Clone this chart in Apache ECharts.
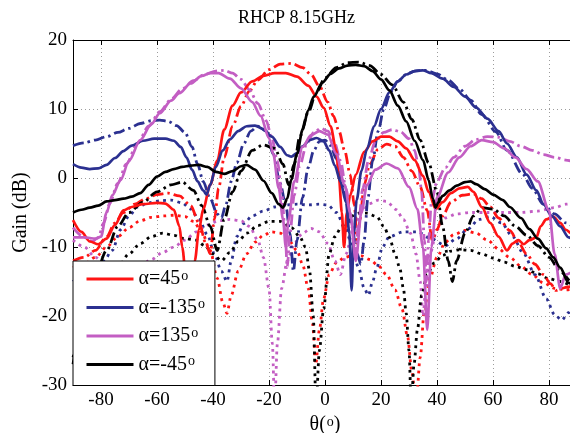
<!DOCTYPE html>
<html><head><meta charset="utf-8">
<script src="https://cdn.jsdelivr.net/npm/echarts@6/dist/echarts.min.js"></script>
<style>html,body{margin:0;padding:0;background:#fff}#c{width:570px;height:433px}</style>
</head><body><div id="c"></div><script>
const xTicks = [-80,-60,-40,-20,0,20,40,60,80];
const legendNames = ['α=45º','α=-135º','α=135º','α=-45º'];

// alpha = 45 deg (red)
const a45_solid = [[-90,-6.1],[-87,-7.8],[-84,-9.2],[-81,-9.6],[-78,-8.8],[-75,-6.8],[-72,-4.7],[-69,-4.2],[-65,-3.8],[-60,-3.6],[-57,-3.7],[-54,-4.6],[-52,-7],[-51,-10],[-49.5,-15],[-48,-18],[-46.5,-12],[-45,-7.5],[-43.5,-4.5],[-41,-1],[-38.5,2.5],[-36,7],[-33,10.5],[-30,12.4],[-26,14],[-22,14.8],[-18,15.2],[-14,15.2],[-10,14.7],[-6,13.4],[-3,11.8],[-0.5,10.2],[2,7.5],[4,4],[5,0],[6,-5],[6.8,-10],[7.8,-5],[9,-2.5],[11,0.5],[14,3.8],[17,5.3],[20,6],[23,6],[26,5.3],[29,4.3],[32,2.6],[35,0.3],[37,-2],[39.5,-4.5],[42,-3.5],[45,-2.2],[48,-1.5],[51,-1.3],[53,-2],[56,-4.2],[59,-6.5],[62,-8.5],[65,-10.5],[67,-9.5],[69,-9],[71,-9.6],[73,-9],[75.5,-8.6],[77,-7],[79,-6],[81.5,-5.6],[84,-6.5],[86,-7.5],[88,-8],[90,-8.5]];
const a45_dashdot = [[-90,-12],[-86,-11.5],[-82,-10.5],[-78,-8.5],[-75,-6.5],[-72,-5],[-68,-3.8],[-64,-3],[-60,-2.4],[-56,-2.2],[-52,-2.6],[-48,-4],[-45,-6.5],[-42.5,-9.5],[-41,-11],[-39.5,-6],[-38,-1.5],[-36,3],[-33,7.5],[-30,10.4],[-27,12.6],[-24,14.2],[-20,15.7],[-16,16.5],[-12,16.6],[-8,16],[-5,15],[-2,13.3],[1,11],[3,9],[5,6.8],[7,4],[9,0.5],[10.5,-4],[11.5,-9.5],[12.5,-6],[14,-1],[16,2],[19,4.2],[22,4.9],[25,4.6],[28,3],[31,1],[34,-1.3],[36.5,-4.7],[38.3,-9],[40,-7.5],[42,-5.5],[45,-3.5],[49,-2.5],[53,-2.3],[56,-3],[59,-4.2],[62,-5.8],[66,-7.6],[69,-9.3],[72,-11],[75,-12.5],[78,-14],[80.5,-15.3],[82.5,-16.3],[84.5,-16],[86.5,-15.8],[90,-15.5]];
const a45_dotted = [[-90,-13],[-86,-12.5],[-82,-11.5],[-78,-10],[-74,-8.5],[-70,-7.2],[-66,-6.2],[-62,-5.7],[-58,-5.5],[-54,-5.4],[-50,-5.6],[-47,-6.3],[-44,-7.8],[-41,-10.5],[-38.5,-14.5],[-36.5,-18],[-35,-19.6],[-33.5,-17],[-31,-13.5],[-28,-11],[-25,-9.3],[-22,-8.3],[-19,-7.8],[-16,-8],[-13,-9],[-10,-10.5],[-8,-12.5],[-6,-16],[-4.5,-21],[-3.3,-27],[-2,-22],[-0.5,-17.5],[1.5,-14],[4,-12.3],[7,-11.5],[10,-11.2],[13,-11.3],[16,-11.8],[19,-12.7],[22,-14],[25,-16.2],[27.5,-19],[29.5,-23],[31,-28],[32.5,-33],[34,-26],[35.5,-19],[37.5,-14.5],[40,-11.5],[43,-9.3],[46,-8.2],[50,-7.6],[54,-8],[58,-9],[62,-10.3],[66,-11.5],[70,-12.8],[74,-14],[78,-15.2],[82,-16],[86,-16.2],[90,-16]];

// alpha = -135 deg (blue)
const am135_solid = [[-90,2],[-87,1.5],[-84,1.3],[-81,1.4],[-78,1.9],[-75,2.9],[-72,3.9],[-69,4.7],[-65,5.4],[-61,5.7],[-57,5.7],[-54,5.4],[-51.5,4.5],[-49.5,3],[-47.5,1.2],[-45.5,-0.5],[-43.5,-1.8],[-42.3,-2.4],[-41,-1],[-39,1.6],[-36.5,4],[-34,5.6],[-31,6.8],[-28,7.5],[-25,7.6],[-22,7.1],[-19,6],[-16,4.5],[-13.5,3.3],[-12,3.1],[-10,3.6],[-8,4.6],[-5.5,5.5],[-3,5.8],[-0.5,5.3],[1.5,4],[3.5,1.8],[5.5,-0.5],[7.5,-3.5],[8.7,-8],[9.5,-16.3],[10.3,-8],[11.3,-3.2],[13,1],[15,4.2],[17.5,7.5],[20,10],[23,12.4],[26,14],[29,15],[32,15.5],[35,15.6],[38,15.2],[42,14.4],[46,13.2],[50,11.8],[54,10.2],[58,8.6],[62,6.8],[65,5],[68.5,3],[72,0.5],[75.5,-1.8],[78,-3.8],[81,-5.5],[84,-7],[87,-8.6],[90,-9.5]];
const am135_dashdot = [[-90,4.7],[-86,5.1],[-82,5.5],[-78,6],[-74,6.6],[-70,7.2],[-66,7.9],[-62,8.3],[-59,8.4],[-56,8.2],[-53,7.6],[-50,6.6],[-47.5,4.5],[-45.5,2],[-43.5,-0.5],[-41,-3],[-38.5,-5.2],[-37,-5.8],[-35.5,-4],[-33.5,-0.5],[-31.5,2.2],[-29,5],[-26.5,6.8],[-24,7.5],[-21,6.8],[-18.5,3.5],[-16,-0.8],[-14,-4],[-12.5,-8],[-11.3,-13.5],[-10,-9],[-8,-2.8],[-6,1.5],[-4,4],[-2,5.3],[0,5.5],[2,4.7],[4,2.8],[6,-0.2],[8,-3.8],[9.5,-7],[11.5,-11],[12.8,-12.5],[14,-9],[15.3,-3],[17,2.5],[19,6.8],[21,10],[23.5,12.5],[26,14],[29,15],[32,15.5],[36,15.6],[40,15.1],[44,14.2],[48,12.9],[52,11.3],[56,9.2],[61,6.7],[65,4],[70.5,0.6],[74,-1.5],[78,-3.8],[82,-5.2],[86,-6.5],[90,-7.5]];
const am135_dotted = [[-90,-15],[-86,-14],[-82,-12.8],[-79,-12],[-76,-10.5],[-73,-7.5],[-70,-5.5],[-67,-4.2],[-63,-3.6],[-59,-3.3],[-55,-3.2],[-51,-3.6],[-48,-4.5],[-45,-6],[-42,-8.2],[-39.5,-11],[-37,-13.5],[-35,-15],[-33.5,-12],[-31.5,-8.5],[-29,-6.6],[-26,-5.5],[-22,-4.8],[-18,-4.2],[-14,-3.9],[-10,-3.8],[-6,-3.9],[-2,-3.8],[1,-3.9],[4,-5],[7,-7],[9.5,-9.5],[12,-13],[14,-16],[15.5,-17],[17,-15],[18.5,-13],[20.5,-10],[23,-8.5],[28,-7.8],[33,-7.8],[38,-8.8],[43,-9.8],[47,-8.8],[51,-7.4],[55,-6],[59,-5.6],[63,-6.5],[67,-8.5],[71,-11],[75,-14],[79,-17.5],[82,-19.8],[84.5,-20.6],[87,-19.5],[90,-17]];

// alpha = 135 deg (pink)
const a135_solid = [[-90,-8.6],[-86,-8.6],[-82,-8.8],[-80,-8.5],[-78,-5],[-76,-2.5],[-73,-0.3],[-70,2.5],[-66,5.5],[-62,7.8],[-59,9.4],[-55,11.2],[-52,12.3],[-48,13.7],[-44,14.8],[-41,15.2],[-38,15.2],[-34,14.4],[-30,13],[-26,11],[-23,9],[-20,5.8],[-18.5,3.5],[-16.5,-1.5],[-15,-6],[-14,-10],[-13,-6],[-11,-0.5],[-8,4.5],[-5,6.2],[-2,6.8],[1,6.3],[4,3.5],[7,-1],[9,-5],[11,-12],[13,-5],[15,-1],[18,1.2],[22,2.1],[26,1.4],[30,-1.3],[33,-4.5],[35,-10],[36.5,-22],[38,-10],[40,-2.8],[44,0.8],[48,3],[52,4.6],[56,5.5],[60,5.2],[64,4.3],[68,3],[72,1.3],[76,-0.5],[80,-4.7],[82,-11],[84,-16],[86,-14],[90,-13]];
const a135_dashdot = [[-90,-7.2],[-86,-8.6],[-83,-9.2],[-81,-8.6],[-79,-6.5],[-77,-3.8],[-74,-0.8],[-71,2],[-67,5],[-63,7.5],[-59,9.6],[-55,11.4],[-51,12.9],[-47,14.1],[-43,15],[-39,15.5],[-36,15.6],[-33,15.2],[-30,14.3],[-27,12.8],[-24,10.8],[-21,8.3],[-19,5.8],[-17,2.5],[-15.5,-2],[-14.2,-8],[-13.5,-13],[-12.5,-8],[-11,-2.5],[-9,1.8],[-6.5,5],[-4,6.6],[-1.5,7.2],[1,6.8],[3.5,5],[5.5,2.5],[7.5,-1.5],[9.5,-6.5],[10.8,-11],[12,-6.5],[13.5,-1.5],[15.5,2.5],[18,5.3],[21,6.6],[24,7],[27,6.7],[30,5.7],[32,4],[33.5,1.5],[34.5,-2],[35.5,-9],[36.2,-15],[37,-9],[38,-3.5],[40,-0.5],[43,1.5],[46,3],[50,4.6],[54,5.6],[58,6],[62,5.9],[66,5.3],[70,4.6],[74,4],[78,3.4],[82,3],[86,2.6],[90,2.2]];
const a135_dotted = [[-90,-9],[-86,-10],[-82,-11.5],[-78,-12.8],[-74,-13.5],[-70,-13.5],[-66,-12.8],[-62,-11.8],[-58,-10.8],[-54,-10],[-50,-9],[-46,-7.8],[-42,-6.8],[-38,-6.2],[-34,-6],[-30,-6.2],[-27,-7],[-24,-9],[-22,-11.5],[-20,-16],[-18.8,-24],[-18,-33],[-17,-24],[-15.5,-16],[-13.5,-12],[-11,-9.5],[-8,-8],[-5,-7.3],[-2,-7.8],[1,-9.5],[3.5,-12],[5.5,-14],[7.5,-11],[10,-7.5],[13,-5],[16,-3.7],[19,-3.2],[22,-3.4],[25.5,-4.6],[28,-6],[30.5,-8],[32.5,-11],[34,-15],[35,-20],[36,-16],[37.5,-11],[40,-7.5],[43,-5.8],[47,-5.2],[52,-5],[58,-5],[64,-5],[70,-5],[76,-4.8],[82,-4.3],[86,-3.8],[90,-3.5]];

// alpha = -45 deg (black)
const am45_solid = [[-90,-5],[-87,-4.6],[-84,-4.3],[-81,-4],[-78,-3.4],[-75,-3.2],[-72,-3],[-69,-2.7],[-66,-2.2],[-63,-1],[-60,0.2],[-57,0.9],[-54,1.3],[-51,1.6],[-48,1.8],[-45,1.9],[-42,1.6],[-39,0.9],[-36,0.6],[-33,1],[-30,1.7],[-28,1.9],[-25,1.2],[-22,-0.4],[-19,-2.2],[-16.5,-3.8],[-15,-4.3],[-13.5,-3],[-12,-0.2],[-10,3.5],[-8,7],[-6,9.8],[-4,11.8],[-1,13.8],[2,15.1],[5,15.9],[8,16.3],[11,16.4],[14,16.2],[17,15.5],[20,14.3],[23,12.7],[26,10.5],[29,8.2],[32,5.4],[35,2.6],[37,-0.3],[38.5,-3],[39.5,-4.3],[40.5,-3.5],[42,-2.6],[44.5,-1.8],[47,-1.1],[50,-0.6],[52,-0.5],[54,-0.9],[57,-1.6],[60,-2.4],[63.5,-3.2],[66,-4.2],[70,-5.8],[73,-7.4],[76,-8.8],[79,-10.2],[81.5,-11.5],[84,-13],[87,-15.2],[90,-16.3]];
const am45_dashdot = [[-90,-27],[-86,-20],[-82,-14],[-78,-10.5],[-74,-7],[-70,-5],[-65,-3.5],[-60,-2],[-55,-1],[-51,-0.6],[-47,-1.8],[-44,-4],[-41,-7],[-38.5,-10.5],[-36,-6],[-33,-2],[-30,1],[-26,4],[-22,4.8],[-18,4.3],[-15,2],[-13,-1],[-11,2],[-9,6],[-6,9.5],[-3,12.5],[0,14.5],[4,16],[8,16.7],[12,16.8],[16,16.3],[20,15],[24,13.5],[28,11],[31,8.5],[34,5.5],[37,2.2],[40,-2],[42,-7],[44,-12],[45.5,-15],[47,-12],[50,-8],[53,-5.5],[56,-4.3],[60,-4.5],[64,-5.5],[68,-7],[72,-8.3],[76,-9.8],[80,-11.5],[84,-13.5],[88,-15],[90,-15.5]];
const am45_dotted = [[-90,-26],[-86,-22],[-82,-18.5],[-78,-15.5],[-74,-13],[-70,-11],[-66,-9.5],[-62,-8.5],[-58,-8],[-54,-8.3],[-50,-8.8],[-46,-9],[-43,-9.8],[-40,-11],[-37,-12],[-34,-10.8],[-31,-9.2],[-28,-8],[-24,-6.9],[-20,-6.3],[-16,-6.3],[-12,-7.2],[-9,-8.5],[-7,-10],[-5.5,-13.5],[-4.2,-20],[-3.2,-33],[-2,-25],[-0.5,-19],[1.5,-11],[3.5,-8.5],[6,-7],[9,-5.6],[12,-5.1],[15,-5.1],[18.5,-5.6],[21,-7],[23,-8.6],[25,-11],[26.7,-13],[28,-16],[29,-19.6],[30,-25],[30.8,-33],[31.8,-27],[33,-22],[34.5,-17],[36.5,-14],[39,-12.3],[42,-11.2],[45,-10.6],[48,-10.4],[52,-10.5],[56,-11],[60,-11.6],[64,-12.2],[68,-12.8],[72,-13.3],[76,-13.9],[80,-14.6],[84,-15],[88,-15.5],[90,-15.7]];

const FONT = "'Liberation Serif','Times New Roman',serif";
const C = {red:'#ff1414', blue:'#2b3090', pink:'#c35ec3', black:'#000000'};
const DASHDOT = [11,4,2.5,4];
const DOTTED = [2.8,4.4];

function line(name, data, color, dash, width, z) {
  return {
    name: name, type: 'line', data: data, xAxisIndex: 0, yAxisIndex: 0,
    symbol: 'none', smooth: 0.3, smoothMonotone: 'x', clip: true, z: z,
    silent: true, emphasis: {disabled: true},
    itemStyle: {color: color},
    lineStyle: {color: color, width: width, type: dash, cap: 'butt', join: 'round'}
  };
}

const series = [
  line('a45 dotted', a45_dotted, C.red, DOTTED, 2.8, 2),
  line('am135 dotted', am135_dotted, C.blue, DOTTED, 2.8, 2),
  line('a135 dotted', a135_dotted, C.pink, DOTTED, 2.8, 2),
  line('am45 dotted', am45_dotted, C.black, DOTTED, 2.8, 2),
  line('a45 dashdot', a45_dashdot, C.red, DASHDOT, 2.8, 3),
  line('am135 dashdot', am135_dashdot, C.blue, DASHDOT, 2.8, 3),
  line('a135 dashdot', a135_dashdot, C.pink, DASHDOT, 2.8, 3),
  line('am45 dashdot', am45_dashdot, C.black, DASHDOT, 2.8, 3),
  line(legendNames[0], a45_solid, C.red, 'solid', 2.7, 4),
  line(legendNames[1], am135_solid, C.blue, 'solid', 2.7, 4),
  line(legendNames[2], a135_solid, C.pink, 'solid', 2.7, 4),
  line(legendNames[3], am45_solid, C.black, 'solid', 2.7, 4)
];

const gridLine = {show: true, lineStyle: {color: '#9c9c9c', width: 1, type: [1, 3]}};
const supStyle = {fontFamily: FONT, fontSize: 14, lineHeight: 12, color: '#000', verticalAlign: 'top', padding: [0, 0, 0, 1]};

const option = {
  animation: false,
  backgroundColor: '#ffffff',
  title: {
    text: 'RHCP 8.15GHz', left: 238, top: 9, padding: 0,
    textStyle: {fontFamily: FONT, fontSize: 18, fontWeight: 'normal', color: '#000'}
  },
  grid: {left: 73, top: 40, width: 504, height: 345, containLabel: false, outerBoundsMode: 'none'},
  legend: {
    data: legendNames, orient: 'vertical', left: 73, top: 261,
    padding: [8, 10, 11, 12], itemWidth: 47, itemHeight: 20, itemGap: 8.5, itemTextGap: 4,
    backgroundColor: '#ffffff', borderColor: '#000', borderWidth: 1, borderRadius: 0,
    selectedMode: false, z: 10,
    lineStyle: {width: 3},
    itemStyle: {opacity: 0},
    formatter: function (n) { return n.replace('º', '{s|o}'); },
    textStyle: {fontFamily: FONT, fontSize: 20, color: '#000', rich: {s: supStyle}}
  },
  xAxis: [
    {
      type: 'value', min: -90, max: 90, position: 'bottom',
      axisLine: {show: true, onZero: false, lineStyle: {color: '#000', width: 1}},
      axisTick: {show: true, inside: true, length: 5, customValues: xTicks, lineStyle: {color: '#000'}},
      axisLabel: {customValues: xTicks, margin: 6, fontFamily: FONT, fontSize: 19, color: '#000'},
      splitLine: gridLine,
      name: 'θ({s|o})', nameLocation: 'middle', nameGap: 29,
      nameTextStyle: {fontFamily: FONT, fontSize: 20, color: '#000', rich: {s: supStyle}}
    },
    {
      type: 'value', min: -90, max: 90, position: 'top',
      axisLine: {show: true, onZero: false, lineStyle: {color: '#000', width: 1}},
      axisTick: {show: true, inside: true, length: 5, customValues: xTicks, lineStyle: {color: '#000'}},
      axisLabel: {show: false, customValues: xTicks},
      splitLine: {show: false}
    }
  ],
  yAxis: {
    type: 'value', min: -30, max: 20, interval: 10,
    axisLine: {show: true, onZero: false, lineStyle: {color: '#000', width: 1}},
    axisTick: {show: true, inside: true, length: 5, lineStyle: {color: '#000'}},
    axisLabel: {margin: 6, fontFamily: FONT, fontSize: 19, color: '#000'},
    splitLine: gridLine,
    name: 'Gain (dB)', nameLocation: 'middle', nameGap: 42, nameRotate: 90,
    nameTextStyle: {fontFamily: FONT, fontSize: 20, color: '#000'}
  },
  series: series
};

const chart = echarts.init(document.getElementById('c'), null, {renderer: 'canvas'});
chart.setOption(option);
</script></body></html>
